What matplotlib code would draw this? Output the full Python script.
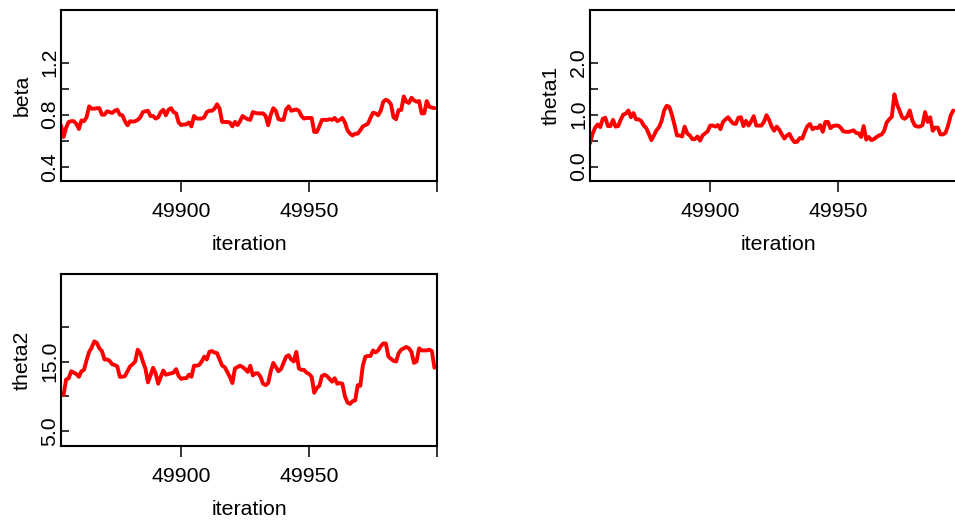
import matplotlib
matplotlib.use("Agg")
import matplotlib.pyplot as plt
import numpy as np
from matplotlib.ticker import FixedLocator, FixedFormatter

plt.rcParams['font.family'] = ['Liberation Sans', 'DejaVu Sans']

# ---------------- data ----------------
iterations = np.arange(49853, 50000)

beta = [
    0.718, 0.628, 0.70, 0.744, 0.75, 0.75, 0.73, 0.69, 0.756, 0.75,
    0.78, 0.864, 0.846, 0.846, 0.85, 0.85, 0.80, 0.80, 0.826, 0.82,
    0.813, 0.83, 0.838, 0.80, 0.795, 0.75, 0.718, 0.75, 0.746, 0.75,
    0.76, 0.78, 0.82, 0.826, 0.83, 0.79, 0.79, 0.77, 0.78, 0.82,
    0.838, 0.795, 0.838, 0.85, 0.82, 0.81, 0.74, 0.72, 0.725, 0.725,
    0.74, 0.71, 0.79, 0.77, 0.77, 0.77, 0.78, 0.82, 0.83, 0.83,
    0.846, 0.88, 0.846, 0.744, 0.744, 0.744, 0.74, 0.71, 0.745, 0.72,
    0.75, 0.79, 0.776, 0.765, 0.76, 0.82, 0.813, 0.81, 0.81, 0.81,
    0.79, 0.718, 0.80, 0.85, 0.83, 0.766, 0.76, 0.76, 0.84, 0.864,
    0.83, 0.835, 0.84, 0.83, 0.79, 0.77, 0.775, 0.775, 0.775, 0.667,
    0.667, 0.71, 0.76, 0.76, 0.76, 0.765, 0.76, 0.775, 0.75, 0.76,
    0.775, 0.74, 0.68, 0.654, 0.64, 0.654, 0.654, 0.68, 0.71, 0.72,
    0.73, 0.776, 0.815, 0.81, 0.795, 0.83, 0.90, 0.915, 0.905, 0.88,
    0.78, 0.765, 0.836, 0.836, 0.94, 0.90, 0.89, 0.93, 0.91, 0.90,
    0.905, 0.81, 0.81, 0.905, 0.86, 0.855, 0.85,
]

theta1 = [
    0.45, 0.63, 0.75, 0.81, 0.76, 0.92, 0.94, 0.78, 0.78, 0.90,
    0.77, 0.78, 0.90, 1.00, 1.02, 1.08, 0.95, 1.03, 0.91, 0.91,
    0.88, 0.79, 0.74, 0.63, 0.51, 0.60, 0.70, 0.76, 0.88, 1.08,
    1.17, 1.15, 1.00, 0.81, 0.60, 0.60, 0.58, 0.77, 0.64, 0.60,
    0.53, 0.53, 0.58, 0.50, 0.60, 0.64, 0.68, 0.79, 0.79, 0.77,
    0.80, 0.72, 0.86, 0.91, 0.95, 0.88, 0.83, 0.82, 0.94, 0.95,
    0.78, 0.88, 0.79, 0.87, 0.97, 0.79, 0.79, 0.79, 0.86, 0.99,
    0.90, 0.77, 0.69, 0.77, 0.71, 0.62, 0.54, 0.60, 0.63, 0.53,
    0.47, 0.48, 0.55, 0.54, 0.67, 0.78, 0.82, 0.72, 0.75, 0.74,
    0.80, 0.67, 0.86, 0.86, 0.74, 0.78, 0.79, 0.79, 0.75, 0.68,
    0.67, 0.67, 0.68, 0.70, 0.65, 0.64, 0.57, 0.78, 0.52, 0.57,
    0.51, 0.53, 0.57, 0.60, 0.62, 0.69, 0.85, 0.91, 0.96, 1.39,
    1.20, 1.08, 0.95, 0.92, 0.96, 1.08, 0.89, 0.79, 0.77, 0.77,
    0.80, 1.05, 0.86, 0.95, 0.69, 0.75, 0.75, 0.62, 0.62, 0.65,
    0.79, 0.98, 1.08,
]

theta2 = [
    10.4, 10.2, 12.4, 12.6, 13.6, 13.4, 13.2, 12.8, 13.6, 13.8,
    15.2, 16.4, 17.0, 17.9, 17.7, 16.9, 16.5, 15.3, 15.3, 15.1,
    14.6, 14.5, 14.3, 12.8, 12.8, 12.9, 13.6, 14.3, 14.6, 15.0,
    16.7, 16.2, 15.0, 14.0, 12.0, 13.0, 14.1, 13.3, 11.8, 12.8,
    13.7, 13.1, 13.2, 13.3, 13.4, 13.9, 12.9, 12.5, 12.6, 12.6,
    13.1, 12.8, 14.4, 14.4, 14.5, 15.0, 15.7, 15.3, 16.4, 16.5,
    16.3, 16.2, 15.3, 14.4, 14.2, 13.5, 12.8, 11.9, 14.0, 14.2,
    14.4, 14.2, 13.9, 13.5, 14.4, 13.0, 13.3, 13.3, 12.8, 11.8,
    11.6, 11.9, 13.6, 14.8, 14.2, 13.6, 13.9, 14.8, 15.7, 15.9,
    15.3, 15.0, 16.4, 14.0, 13.8, 13.8, 13.4, 13.2, 12.8, 10.5,
    11.2, 11.5, 12.9, 13.1, 12.9, 12.5, 12.1, 12.6, 11.8, 11.9,
    11.8, 10.0, 9.1, 8.9, 9.3, 9.4, 11.6, 11.5, 14.4, 15.7,
    15.8, 15.8, 16.6, 16.3, 16.6, 17.2, 17.6, 17.6, 15.7, 15.4,
    15.1, 15.0, 16.2, 16.7, 16.9, 17.1, 16.9, 16.4, 14.8, 15.0,
    16.9, 16.6, 16.6, 16.6, 16.7, 16.5, 14.1,
]

x_ticks = [49900, 49950, 50000]
x_ticklabels = ["49900", "49950", ""]

beta_ticks = [0.4, 0.6, 0.8, 1.0, 1.2]
beta_ticklabels = ["0.4", "", "0.8", "", "1.2"]
theta1_ticks = [0.0, 0.5, 1.0, 1.5, 2.0]
theta1_ticklabels = ["0.0", "", "1.0", "", "2.0"]
theta2_ticks = [5, 10, 15, 20]
theta2_ticklabels = ["5.0", "", "15.0", ""]

# ---------------- figure ----------------
W, H = 955, 521
fig = plt.figure(figsize=(W / 100, H / 100), dpi=100)


def px_axes(l, t, r, b):
    return fig.add_axes([l / W, 1 - b / H, (r - l) / W, (b - t) / H])


panels = [
    ("beta", beta, (0.29, 1.605), beta_ticks, beta_ticklabels, (61, 10, 437, 181)),
    ("theta1", theta1, (-0.275, 3.01), theta1_ticks, theta1_ticklabels, (590, 10, 966, 181)),
    ("theta2", theta2, (2.84, 27.6), theta2_ticks, theta2_ticklabels, (61, 274, 437, 446)),
]

FS = 15.3

for name, vals, ylim, yt, ytl, rect in panels:
    ax = px_axes(*rect)
    hpx = rect[3] - rect[1]
    wpx = rect[2] - rect[0]
    ax.plot(iterations[:len(vals)], vals, color="#ff0000", lw=2.8,
            solid_joinstyle="round", solid_capstyle="round")
    ax.set_xlim(49853, 50000)
    ax.set_ylim(*ylim)
    ax.xaxis.set_major_locator(FixedLocator(x_ticks))
    ax.xaxis.set_major_formatter(FixedFormatter(x_ticklabels))
    ax.yaxis.set_major_locator(FixedLocator(yt))
    ax.yaxis.set_major_formatter(FixedFormatter(ytl))
    ax.tick_params(axis="x", direction="out", length=8, width=1.1,
                   pad=7.0, labelsize=FS, colors="black")
    ax.tick_params(axis="y", direction="in", length=6, width=1.1,
                   pad=1.5, labelsize=FS, colors="black")
    for lab in ax.get_yticklabels():
        lab.set_rotation(90)
        lab.set_va("center")
        lab.set_ha("right")
    for sp in ax.spines.values():
        sp.set_linewidth(1.5)
        sp.set_color("black")
    ax.set_xlabel("iteration", fontsize=FS)
    ax.set_ylabel(name, fontsize=FS)
    ax.xaxis.set_label_coords(0.5, -54 / hpx)
    ax.yaxis.set_label_coords(-29.5 / wpx, 0.5)

fig.savefig("out.png", dpi=100)
